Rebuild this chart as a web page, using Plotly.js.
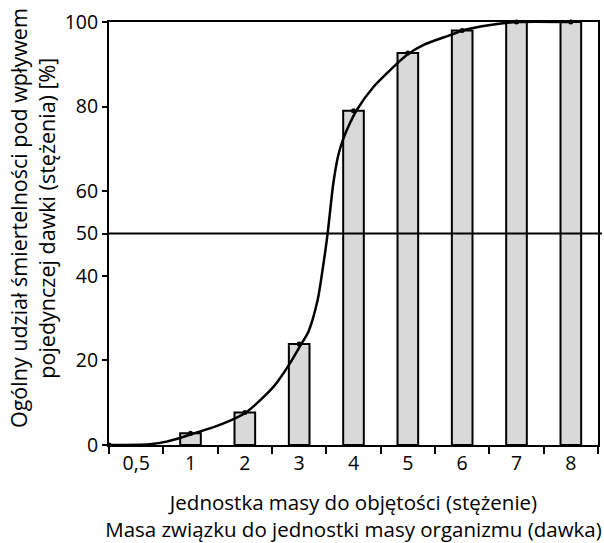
<!DOCTYPE html>
<html>
<head>
<meta charset="utf-8">
<script src="https://cdn.plot.ly/plotly-3.0.1.min.js"></script>
<style>html,body{margin:0;padding:0;background:#fff;}#chart{width:604px;height:543px;}</style>
</head>
<body>
<div id="chart"></div>
<script>
// Categories (x tick labels)
const categories = ['0,5', '1', '2', '3', '4', '5', '6', '7', '8'];
// Bar values [%] (no bar at 0,5)
const barValues = [null, 2.8, 7.7, 23.9, 79.0, 92.7, 98.0, 100, 100];
// Measured points (dots) on the curve
const dotX = [-0.5, 1, 2, 3, 4, 5, 6, 7, 8];
const dotY = [0, 2.8, 7.7, 23.9, 79.0, 92.7, 98.0, 100, 100];
// Fitted curve (x in category-index units)
const curveX = [-0.5, 0.25, 0.56, 1.08, 1.55, 2.02, 2.53, 2.83, 3.04, 3.17, 3.34, 3.44, 3.52, 3.63, 3.72, 3.81, 3.91, 4.06, 4.37, 4.68, 4.98, 5.29, 5.78, 6.03, 6.52, 7.01, 8.0];
const curveY = [0, 0.2, 0.8, 2.8, 4.8, 7.7, 13.8, 19.3, 23.9, 26.8, 34.3, 42.2, 49.6, 62.0, 68.5, 72.3, 75.4, 79.2, 84.7, 88.7, 92.2, 94.6, 96.9, 98.1, 99.3, 100, 100];
const yTicks = [0, 20, 40, 50, 60, 80, 100];
const xTitle = 'Jednostka masy do objętości (stężenie)<br>Masa związku do jednostki masy organizmu (dawka)';
const yTitle = 'Ogólny udział śmiertelności pod wpływem<br>pojedynczej dawki (stężenia) [%]';

const idx = categories.map((c, i) => i);
const FONT = '"Open Sans", sans-serif';

const traces = [
  {
    type: 'bar', x: idx, y: barValues, width: 0.38,
    marker: {color: '#d9d9d9', line: {color: '#000', width: 2}},
    hoverinfo: 'skip', showlegend: false
  },
  {
    type: 'scatter', mode: 'lines', x: curveX, y: curveY,
    line: {color: '#000', width: 2.5, shape: 'spline', smoothing: 0.7},
    showlegend: false, cliponaxis: false
  },
  {
    type: 'scatter', mode: 'markers', x: dotX, y: dotY,
    marker: {color: '#000', size: 5},
    showlegend: false, cliponaxis: false
  }
];

const layout = {
  width: 604, height: 543,
  margin: {l: 109, r: 6, t: 22, b: 98},
  paper_bgcolor: '#fff', plot_bgcolor: '#fff',
  font: {family: FONT, size: 19, color: '#000'},
  bargap: 0,
  xaxis: {
    range: [-0.5, 8.5], tickmode: 'array', tickvals: idx, ticktext: categories,
    ticks: 'outside', ticklen: 0, tickcolor: 'rgba(0,0,0,0)',
    minor: {tick0: -0.5, dtick: 1, ticks: 'outside', ticklen: 7, tickwidth: 2, tickcolor: '#000', showgrid: false},
    showgrid: false, zeroline: false, showline: true, linecolor: '#000', linewidth: 2, mirror: true,
    tickfont: {family: FONT, size: 19.5},
    title: {text: xTitle, font: {family: FONT, size: 20.5}, standoff: 28}
  },
  yaxis: {
    range: [0, 100], tickmode: 'array', tickvals: yTicks,
    ticks: 'outside', ticklen: 5, tickwidth: 2, tickcolor: '#000',
    showgrid: false, zeroline: false, showline: true, linecolor: '#000', linewidth: 2, mirror: true,
    tickfont: {family: FONT, size: 19.5}
  },
  annotations: [
    {text: yTitle, textangle: -90, xref: 'paper', yref: 'paper', x: -0.155, y: 0.537,
     xanchor: 'center', yanchor: 'middle', showarrow: false, font: {family: FONT, size: 21.5, color: '#000'}}
  ],
  shapes: [
    {type: 'line', xref: 'paper', yref: 'y', x0: 0, x1: 1.008, y0: 50, y1: 50, line: {color: '#000', width: 2}}
  ]
};

Plotly.newPlot('chart', traces, layout, {displayModeBar: false, staticPlot: true});
</script>
</body>
</html>
